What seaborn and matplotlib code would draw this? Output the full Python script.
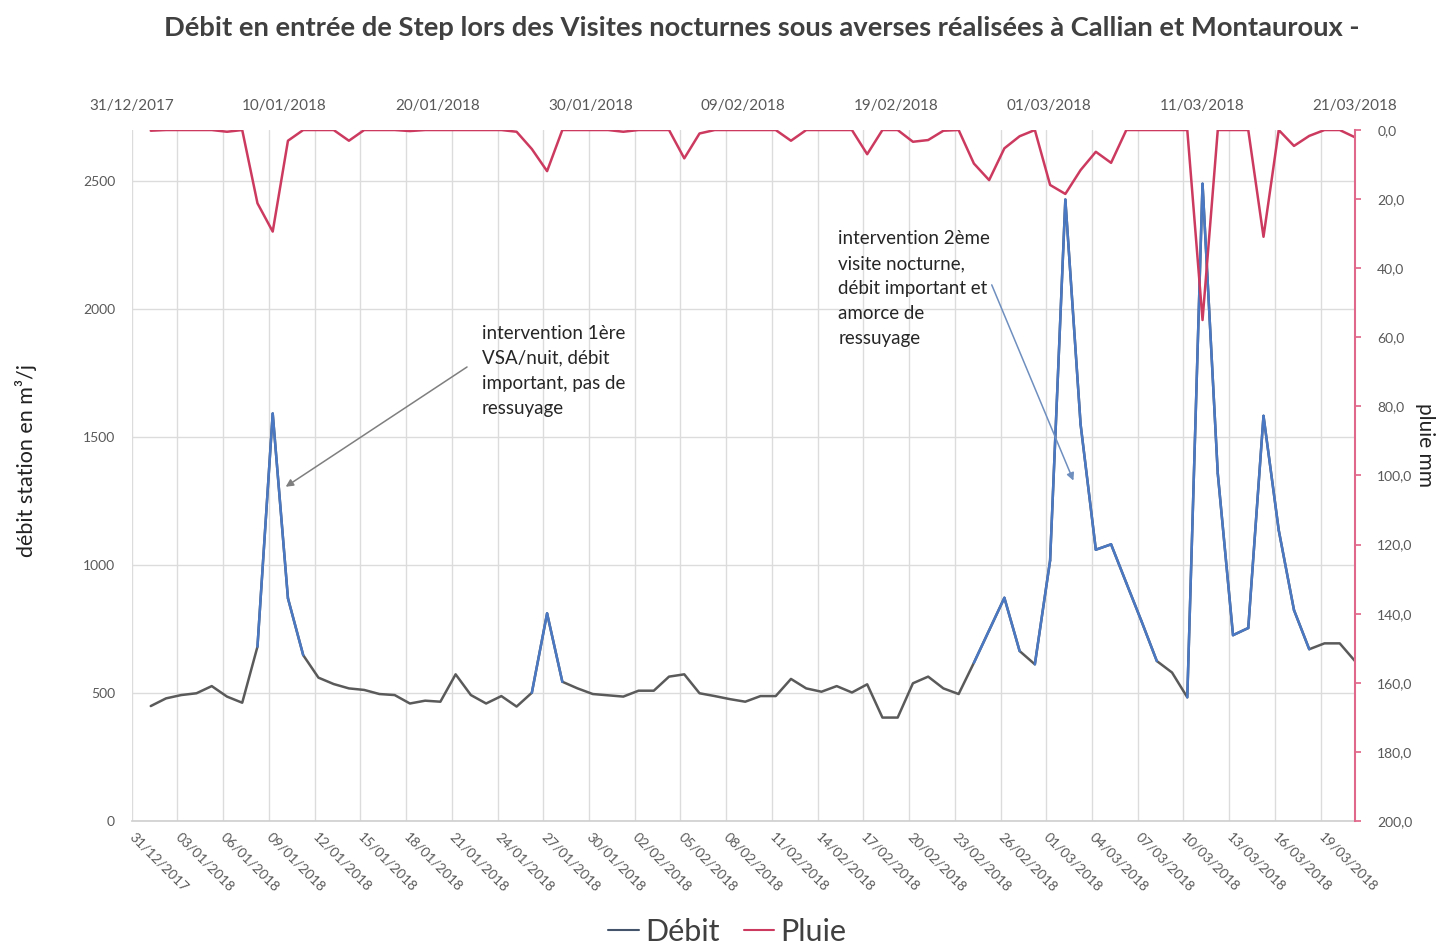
import numpy as np
import pandas as pd
import matplotlib
matplotlib.use("Agg")
import matplotlib.pyplot as plt
import seaborn as sns
from matplotlib.lines import Line2D

# Données (une valeur par jour)
dates = pd.date_range("2017-12-31", "2018-03-20", freq="D")

debit = [449, 479, 492, 499, 527, 486, 462, 681, 1592, 870,
         648, 560, 535, 518, 512, 496, 492, 459, 470, 466,
         573, 492, 459, 488, 447, 501, 811, 544, 518, 496,
         491, 486, 509, 509, 564, 573, 499, 488, 476, 466,
         488, 488, 555, 518, 505, 527, 502, 534, 404, 404,
         538, 564, 518, 496, 618, 745, 872, 664, 612, 1018,
         2428, 1550, 1060, 1081, 930, 780, 625, 580, 483, 2490,
         1358, 726, 754, 1583, 1136, 824, 671, 694, 694, 625]

pluie = [0.2, 0, 0, 0, 0, 0.5, 0, 21.2, 29.4, 3.1,
         0, 0, 0, 3.1, 0, 0, 0, 0.3, 0, 0,
         0, 0, 0, 0, 0.5, 5.5, 11.9, 0, 0, 0,
         0, 0.5, 0, 0, 0, 8.2, 1.0, 0, 0, 0,
         0, 0, 3.1, 0, 0, 0, 0, 7.0, 0, 0,
         3.4, 2.9, 0.2, 0, 9.7, 14.5, 5.3, 1.8, 0, 15.9,
         18.5, 11.6, 6.3, 9.5, 0, 0, 0, 0, 0, 55.0,
         0, 0, 0, 30.9, 0, 4.6, 1.7, 0, 0, 2.1]

top_labels = ["31/12/2017", "10/01/2018", "20/01/2018", "30/01/2018", "09/02/2018",
              "19/02/2018", "01/03/2018", "11/03/2018", "21/03/2018"]

GREY = "#5a5a5a"
BLUE = "#4a78c2"
RED = "#cc3a60"
PINK = "#e0688a"
TXT = "#595959"

sns.set_theme(style="white")
plt.rcParams["font.family"] = ["Lato", "DejaVu Sans"]

df = pd.DataFrame({"jour": np.arange(len(dates)), "debit": debit, "pluie": pluie})

# segments "forts" du débit tracés en bleu par-dessus la courbe grise
segs = []
for i in range(len(debit) - 1):
    if max(debit[i], debit[i + 1]) >= 700:
        segs.append((i, i, debit[i]))
        segs.append((i, i + 1, debit[i + 1]))
seg_df = pd.DataFrame(segs, columns=["seg", "jour", "debit"])

fig = plt.figure(figsize=(14.49, 9.47), dpi=100)
ax = fig.add_axes([0.0909, 0.1331, 0.8442, 0.7296])

sns.lineplot(data=df, x="jour", y="debit", ax=ax, color=GREY, lw=1.8, legend=False)
sns.lineplot(data=seg_df, x="jour", y="debit", units="seg", estimator=None,
             ax=ax, color=BLUE, lw=1.8, legend=False)

x0 = -1.25
ax.set_xlim(x0, df["jour"].iloc[-1])
ax.set_ylim(0, 2700)
ax.set_yticks(range(0, 2501, 500))
ax.tick_params(axis="y", length=0, pad=12, labelsize=10, labelcolor=TXT)

ticks = df["jour"].iloc[::3] + x0
ax.set_xticks(ticks)
ax.set_xticklabels([d.strftime("%d/%m/%Y") for d in dates[::3]], rotation=-45,
                   ha="left", va="center", rotation_mode="anchor")
ax.tick_params(axis="x", length=0, pad=10, labelsize=10, labelcolor=TXT)
ax.grid(True, color="#dcdcdc", lw=1)
for s in ["left", "top", "right"]:
    ax.spines[s].set_visible(False)
ax.spines["bottom"].set_color("#d0d0d0")
ax.set_xlabel("")
ax.set_ylabel("débit station en m³/j", fontsize=15.5, color="#222222")
ax.yaxis.set_label_coords(-0.0774, 0.522)

top = ax.secondary_xaxis("top")
top.set_xticks(np.linspace(x0, df["jour"].iloc[-1], len(top_labels)), top_labels)
top.tick_params(length=0, pad=12, labelsize=11, labelcolor=TXT)
top.spines["top"].set_visible(False)

ax2 = ax.twinx()
sns.lineplot(data=df, x="jour", y="pluie", ax=ax2, color=RED, lw=1.8, legend=False)
ax2.set_ylim(200, 0)
ax2.set_yticks(range(0, 201, 20))
ax2.set_yticklabels([f"{v:.1f}".replace(".", ",") for v in range(0, 201, 20)])
ax2.tick_params(axis="y", length=4, color=PINK, pad=12, labelsize=10, labelcolor=TXT)
for s in ["left", "top", "bottom"]:
    ax2.spines[s].set_visible(False)
ax2.spines["right"].set_color(PINK)
ax2.spines["right"].set_linewidth(1.5)
ax2.grid(False)
ax2.set_ylabel("pluie mm", fontsize=15, color="#222222", rotation=-90)
ax2.yaxis.set_label_coords(1.0654, 0.544)

# annotations
ax.text(21.7, 1940, "intervention 1ère\nVSA/nuit, débit\nimportant, pas de\nressuyage",
        ha="left", va="top", fontsize=13.5, linespacing=1.58, color="#262626")
ax.annotate("", xy=(8.7, 1300), xytext=(20.9, 1780),
            arrowprops=dict(arrowstyle="-|>", color="#7f7f7f", lw=1.1, mutation_scale=11))
ax.text(45.1, 2310, "intervention 2ème\nvisite nocturne,\ndébit important et\namorce de\nressuyage",
        ha="left", va="top", fontsize=13.5, linespacing=1.58, color="#262626")
ax.annotate("", xy=(60.6, 1320), xytext=(55.1, 2105),
            arrowprops=dict(arrowstyle="-|>", color="#6f8fbf", lw=1.1, mutation_scale=11))

fig.text(0.526, 0.9704,
         "Débit en entrée de Step lors des Visites nocturnes sous averses réalisées à Callian et Montauroux -",
         ha="center", va="center", fontsize=19.7, weight="bold", color="#404040")

handles = [Line2D([], [], color="#44546a", lw=1.5), Line2D([], [], color=RED, lw=1.5)]
fig.legend(handles, ["Débit", "Pluie"], loc="center", bbox_to_anchor=(0.502, 0.016),
           ncol=2, frameon=False, fontsize=22, handlelength=1.0, handletextpad=0.2,
           columnspacing=0.8, labelcolor="#404040")

fig.savefig("out.png", dpi=100)
